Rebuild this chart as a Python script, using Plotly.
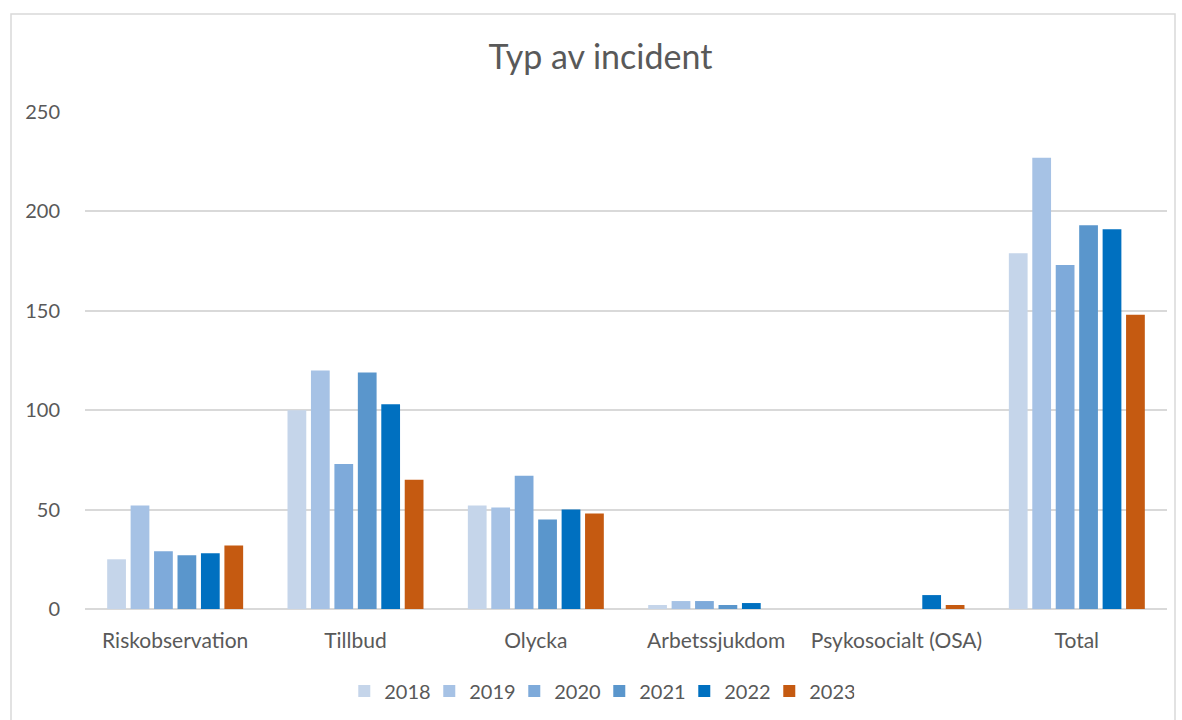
import plotly.graph_objects as go

categories = ["Riskobservation", "Tillbud", "Olycka", "Arbetssjukdom", "Psykosocialt (OSA)", "Total"]
years = ["2018", "2019", "2020", "2021", "2022", "2023"]
v2018 = [25, 100, 52, 2, 0, 179]
v2019 = [52, 120, 51, 4, 0, 227]
v2020 = [29, 73, 67, 4, 0, 173]
v2021 = [27, 119, 45, 2, 0, 193]
v2022 = [28, 103, 50, 3, 7, 191]
v2023 = [32, 65, 48, 0, 2, 148]
series = [v2018, v2019, v2020, v2021, v2022, v2023]
colors = ["#C5D5EA", "#A6C2E5", "#7EAADA", "#5A96CC", "#0070C0", "#C55A11"]

FONT = "Lato, Liberation Sans, sans-serif"
GREY = "#595959"

fig = go.Figure()
for y, vals, c in zip(years, series, colors):
    fig.add_trace(go.Bar(name=y, x=categories, y=vals, marker=dict(color=c, line=dict(width=0))))

fig.update_layout(
    width=1182, height=720,
    paper_bgcolor="white", plot_bgcolor="white",
    margin=dict(l=85, r=15, t=112, b=111),
    barmode="group", bargap=0.22, bargroupgap=0.2,
    font=dict(family=FONT, color=GREY, size=20),
    title=dict(text="Typ av incident", x=0.508, xref="container", y=1 - 57 / 720, yref="container",
               xanchor="center", yanchor="middle", font=dict(size=34, color=GREY, family=FONT)),
    showlegend=True,
    legend=dict(orientation="h", xref="container", yref="container", x=0.507, y=1 - 691 / 720,
                xanchor="center", yanchor="middle", font=dict(size=20, color=GREY), itemwidth=30,
                entrywidth=40, entrywidthmode="pixels", traceorder="normal"),
    xaxis=dict(showgrid=False, showline=False, ticks="outside", ticklen=13, tickcolor="rgba(0,0,0,0)",
               tickfont=dict(size=21, color=GREY)),
    yaxis=dict(range=[0, 250], dtick=50, showgrid=True, gridcolor="#D9D9D9", gridwidth=1.5,
               zeroline=True, zerolinecolor="#D9D9D9", zerolinewidth=2, showline=False,
               ticks="outside", ticklen=20, tickcolor="rgba(0,0,0,0)", tickfont=dict(size=20, color=GREY)),
    shapes=[dict(type="rect", xref="paper", yref="paper",
                 x0=(11 - 85) / 1082, x1=(1175 - 85) / 1082,
                 y0=(609 - 730) / 497, y1=(609 - 14) / 497,
                 line=dict(color="#D9D9D9", width=1.5), fillcolor="rgba(0,0,0,0)", layer="below")],
)

fig.write_html("out.html")
